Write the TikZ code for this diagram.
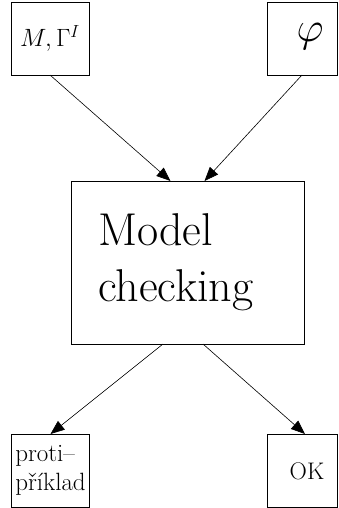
\RequirePackage{fix-cm}
\documentclass[tikz,border=0pt]{standalone}
\usetikzlibrary{arrows.meta}
\begin{document}
\begin{tikzpicture}[x=1pt,y=-1pt,
  box/.style={draw, line width=0.8pt, inner sep=0pt, outer sep=0pt},
  smallbox/.style={box, minimum width=#1, minimum height=73pt},
  flow/.style={line width=0.6pt, -{Triangle[length=14pt,width=11pt]}}]
\useasboundingbox (0,0) rectangle (338,508);

% inputs
\node[smallbox=78pt, font=\fontsize{25}{30}\selectfont] (mg) at (50,38.5) {$M,\Gamma^I$};
\node[smallbox=70pt] (phi) at (302,38.5) {};
\node[font=\fontsize{42}{50}\selectfont, inner sep=0pt] (phitext) at ([xshift=8pt,yshift=2pt]phi.center) {$\varphi$};

% the checker
\node[box, minimum width=233pt, minimum height=163pt, text width=179pt,
      inner xsep=27pt, align=left, font=\fontsize{46}{56}\selectfont]
      (mc) at (187.5,262.5) {Model\\checking};

% outputs
\node[smallbox=78pt, align=left, font=\fontsize{25}{29}\selectfont] (pr) at (50.5,470.5) {proti--\\příklad};
\node[smallbox=70pt] (ok) at (302,470.5) {};
\node[font=\fontsize{24}{29}\selectfont, inner sep=0pt] (oktext) at ([xshift=5pt,yshift=-1pt]ok.center) {OK};

% connectors
\draw[flow] (mg.south) -- ([xshift=-17pt]mc.north);
\draw[flow] (phi.south) -- ([xshift=17pt]mc.north);
\draw[flow] ([xshift=-24.5pt]mc.south) -- (pr.north);
\draw[flow] ([xshift=15.5pt]mc.south) -- ([xshift=3pt]ok.north);
\end{tikzpicture}
\end{document}
